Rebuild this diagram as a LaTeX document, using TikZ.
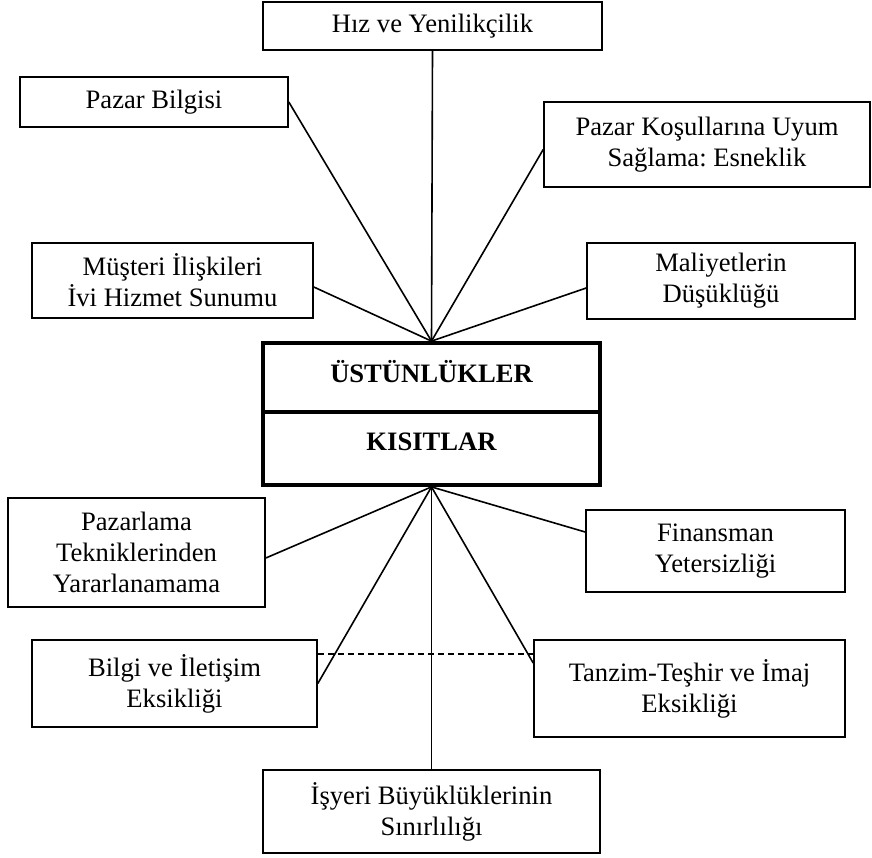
\documentclass[tikz,border=0pt]{standalone}
\usepackage{fontspec}
\setmainfont{Liberation Serif}
\frenchspacing
\begin{document}
\begin{tikzpicture}[x=1pt,y=1pt,
  box/.style={draw, line width=1.6pt, inner sep=0pt, align=center,
    font=\fontsize{26.6pt}{31pt}\selectfont},
  cell/.style={draw, line width=3.8pt, inner sep=0pt, minimum width=337pt},
  bold/.style={inner sep=0pt, font=\fontsize{26.6pt}{31pt}\selectfont\bfseries},
  conn/.style={line width=1.6pt},
  dashconn/.style={line width=1.6pt, dash pattern=on 6pt off 4pt}]
\useasboundingbox (0,0) rectangle (872,-857);
% central box
\node[cell, minimum height=69pt] (u) at (431.5,-377.5) {};
\node[cell, minimum height=73pt] (k) at (431.5,-448.5) {};
\node[bold] (ut) at (431.5,-372) {ÜSTÜNLÜKLER};
\node[bold] (kt) at (431.5,-442) {KISITLAR};
% upper boxes
\node[box, minimum width=339pt, minimum height=48pt] (hiz) at (432.5,-26) {Hız ve Yenilikçilik};
\node[box, minimum width=268pt, minimum height=50pt] (pb) at (154,-102) {Pazar Bilgisi};
\node[box, minimum width=326pt, minimum height=85pt] (pk) at (707,-144.5) {Pazar Koşullarına Uyum\\Sağlama: Esneklik};
\node[box, minimum width=281pt, minimum height=75pt] (mi) at (172.5,-280.5) {Müşteri İlişkileri\\İvi Hizmet Sunumu};
\node[box, minimum width=268pt, minimum height=76pt] (ma) at (721,-281) {Maliyetlerin\\Düşüklüğü};
% lower boxes
\node[box, minimum width=257pt, minimum height=109pt] (pz) at (136.5,-552.5) {Pazarlama\\Tekniklerinden\\Yararlanamama};
\node[box, minimum width=259pt, minimum height=82pt] (fi) at (715.5,-551) {Finansman\\Yetersizliği};
\node[box, minimum width=285pt, minimum height=87pt] (bi) at (174.5,-683.5) {Bilgi ve İletişim\\Eksikliği};
\node[box, minimum width=311pt, minimum height=97pt] (ta) at (689.5,-688.5) {Tanzim-Teşhir ve İmaj\\Eksikliği};
\node[box, minimum width=337pt, minimum height=83pt] (is) at (431.5,-811.5) {İşyeri Büyüklüklerinin\\Sınırlılığı};
% upper connectors
\draw[conn] (hiz.south) -- (u.north);
\draw[conn] (pb.east) -- (u.north);
\draw[conn] ([yshift=-5pt]pk.west) -- (u.north);
\draw[conn] ([yshift=-6.5pt]mi.east) -- (u.north);
\draw[conn] ([yshift=-7pt]ma.west) -- (u.north);
% lower connectors
\draw[conn] ([yshift=-5.5pt]pz.east) -- (k.south);
\draw[conn] ([yshift=19pt]fi.west) -- (k.south);
\draw[conn] (bi.east) -- (k.south);
\draw[conn] ([yshift=25.5pt]ta.west) -- (k.south);
\draw[conn] (is.north) -- (k.south);
\draw[dashconn] ([yshift=29.5pt]bi.east) -- ([yshift=34.5pt]ta.west);
\end{tikzpicture}
\end{document}
